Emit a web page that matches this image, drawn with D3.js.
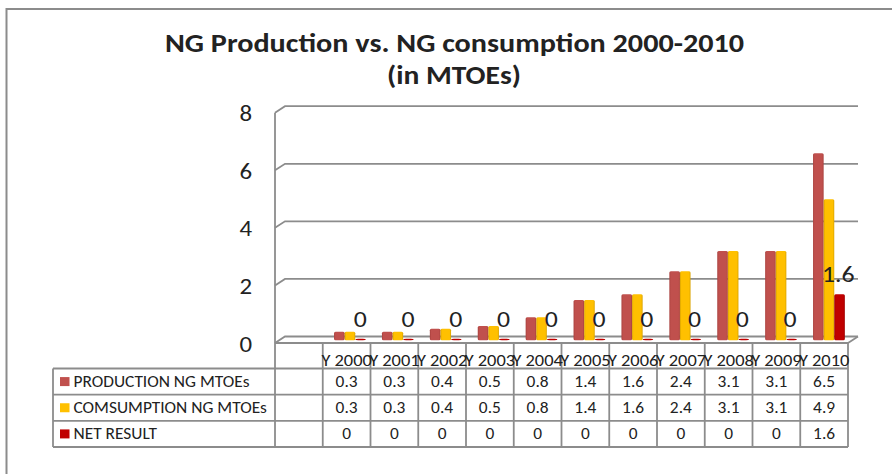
<!DOCTYPE html>
<html>
<head>
<meta charset="utf-8">
<script src="https://cdn.jsdelivr.net/npm/d3@7"></script>
<style>
  html, body { margin: 0; padding: 0; background: #fff; }
  svg { display: block; }
  text { font-family: Carlito, "Open Sans", "Noto Sans", sans-serif; fill: #222; }
</style>
</head>
<body>
<svg id="chart" width="892" height="474"></svg>
<script>
const years = ['Y 2000', 'Y 2001', 'Y 2002', 'Y 2003', 'Y 2004', 'Y 2005', 'Y 2006', 'Y 2007', 'Y 2008', 'Y 2009', 'Y 2010'];
const production = [0.3, 0.3, 0.4, 0.5, 0.8, 1.4, 1.6, 2.4, 3.1, 3.1, 6.5];
const consumption = [0.3, 0.3, 0.4, 0.5, 0.8, 1.4, 1.6, 2.4, 3.1, 3.1, 4.9];
const netResult = [0, 0, 0, 0, 0, 0, 0, 0, 0, 0, 1.6];
const seriesNames = ['PRODUCTION NG MTOEs', 'COMSUMPTION NG MTOEs', 'NET RESULT'];
const seriesColors = ['#c0504d', '#ffc000', '#c00000'];
const seriesEdges = ['#a8403d', '#d9a300', '#9c0000'];
const yTicks = [0, 2, 4, 6, 8];

const grey = '#8c8c8c';
const svg = d3.select('#chart');

// the source picture stretches its text sideways, so widen after measuring
function stretch(sel, factor) {
  sel.each(function () {
    const w = this.getComputedTextLength();
    d3.select(this).attr('textLength', w * factor).attr('lengthAdjust', 'spacingAndGlyphs');
  });
  return sel;
}

// page frame (cropped at right and bottom)
svg.append('path').attr('d', 'M6.5,474V9H892').attr('fill', 'none').attr('stroke', grey).attr('stroke-width', 2);

svg.append('text').attr('x', 454.5).attr('y', 52).attr('text-anchor', 'middle').attr('font-weight', 'bold').attr('font-size', 27)
  .attr('fill', '#111').text('NG Production vs. NG consumption 2000-2010').attr('textLength', 579).attr('lengthAdjust', 'spacingAndGlyphs');
svg.append('text').attr('x', 454).attr('y', 84).attr('text-anchor', 'middle').attr('font-weight', 'bold').attr('font-size', 27)
  .attr('fill', '#111').text('(in MTOEs)').attr('textLength', 134).attr('lengthAdjust', 'spacingAndGlyphs');

// first table column is empty, like in the source sheet
const x = d3.scaleBand().domain(['', ...years]).range([275, 848]);
// bars sit on the back of the 3D floor, so their step differs a little from the table
const xBar = d3.scaleBand().domain(years).range([321, 847.9]);
const y = d3.scaleLinear().domain([0, 8]).range([343, 112.7]);
const depthX = 10, depthY = 6.5, barLift = 2.7, barShift = 5;

// walls
yTicks.forEach(t => {
  const yy = y(t);
  svg.append('path')
    .attr('d', `M${x.range()[0]},${yy}l${depthX},${-depthY}H858`)
    .attr('fill', 'none').attr('stroke', grey).attr('stroke-width', 1.8);
  stretch(svg.append('text').attr('x', 252).attr('y', yy + 8.5).attr('text-anchor', 'end').attr('font-size', 23).text(t), 1.08);
});
svg.append('line').attr('x1', 275).attr('x2', 275).attr('y1', y(8)).attr('y2', y(0)).attr('stroke', grey).attr('stroke-width', 1.8);
svg.append('path').attr('d', `M${x.range()[1]},${y(0)}L858,${y(0) - depthY}`).attr('fill', 'none').attr('stroke', grey).attr('stroke-width', 1.8);

// bars
const barW = 10.6;
const seriesData = [production, consumption, netResult];
const defs = svg.append('defs');
seriesColors.forEach((c, i) => {
  const g = defs.append('linearGradient').attr('id', `bar${i}`);
  g.append('stop').attr('offset', 0).attr('stop-color', seriesEdges[i]);
  g.append('stop').attr('offset', 0.15).attr('stop-color', c);
  g.append('stop').attr('offset', 0.85).attr('stop-color', c);
  g.append('stop').attr('offset', 1).attr('stop-color', seriesEdges[i]);
});
seriesData.forEach((vals, i) => {
  svg.append('g').selectAll('rect').data(vals).enter().append('rect')
    .attr('x', (d, j) => xBar(years[j]) + xBar.bandwidth() / 2 + barShift - barW * 1.5 + i * barW)
    .attr('y', d => y(d) - barLift - (d === 0 ? 1.5 : 0))
    .attr('width', barW)
    .attr('height', d => y(0) - y(d) + (d === 0 ? 1.5 : 0))
    .attr('rx', d => d === 0 ? 3 : 1.5)
    .attr('fill', `url(#bar${i})`);
});

// data labels on the net series
stretch(svg.append('g').selectAll('text').data(netResult).enter().append('text')
  .attr('x', (d, j) => x(years[j]) + (d === 0 ? 37.5 : 38))
  .attr('y', d => d === 0 ? 327 : y(d) - barLift - 12)
  .attr('text-anchor', 'middle').attr('font-size', 23).attr('fill', '#222')
  .text(d => d), 1.12);

// data table
const rowY = d3.scalePoint().domain([0, 1, 2, 3]).range([368.5, 447]);
const table = svg.append('g').attr('stroke', grey).attr('stroke-width', 1.8).attr('fill', 'none');
rowY.domain().forEach(r => {
  table.append('line').attr('x1', 53).attr('x2', 848).attr('y1', rowY(r)).attr('y2', rowY(r));
});
table.append('line').attr('x1', 53).attr('x2', 53).attr('y1', 368.5).attr('y2', 447);
x.domain().forEach(c => {
  table.append('line').attr('x1', x(c)).attr('x2', x(c)).attr('y1', y(0)).attr('y2', 447);
});
table.append('line').attr('x1', 848).attr('x2', 848).attr('y1', y(0)).attr('y2', 447);
table.append('line').attr('x1', 275).attr('x2', 848).attr('y1', y(0)).attr('y2', y(0));

years.forEach(yr => {
  stretch(svg.append('text').attr('x', x(yr) + x.bandwidth() / 2).attr('y', 365.5).attr('text-anchor', 'middle')
    .attr('font-size', 16).attr('fill', '#333').text(yr), 1.15);
});

seriesData.forEach((vals, i) => {
  const mid = (rowY(i) + rowY(i + 1)) / 2;
  svg.append('rect').attr('x', 60).attr('y', mid - 4.5).attr('width', 9.5).attr('height', 9).attr('fill', seriesColors[i]);
  stretch(svg.append('text').attr('x', 73.5).attr('y', mid + 5).attr('font-size', 15.5).attr('fill', '#333').text(seriesNames[i]), 1.12);
  vals.forEach((v, j) => {
    stretch(svg.append('text').attr('x', x(years[j]) + x.bandwidth() / 2).attr('y', mid + 5)
      .attr('text-anchor', 'middle').attr('font-size', 15.5).attr('fill', '#333').text(v), 1.12);
  });
});
</script>
</body>
</html>
